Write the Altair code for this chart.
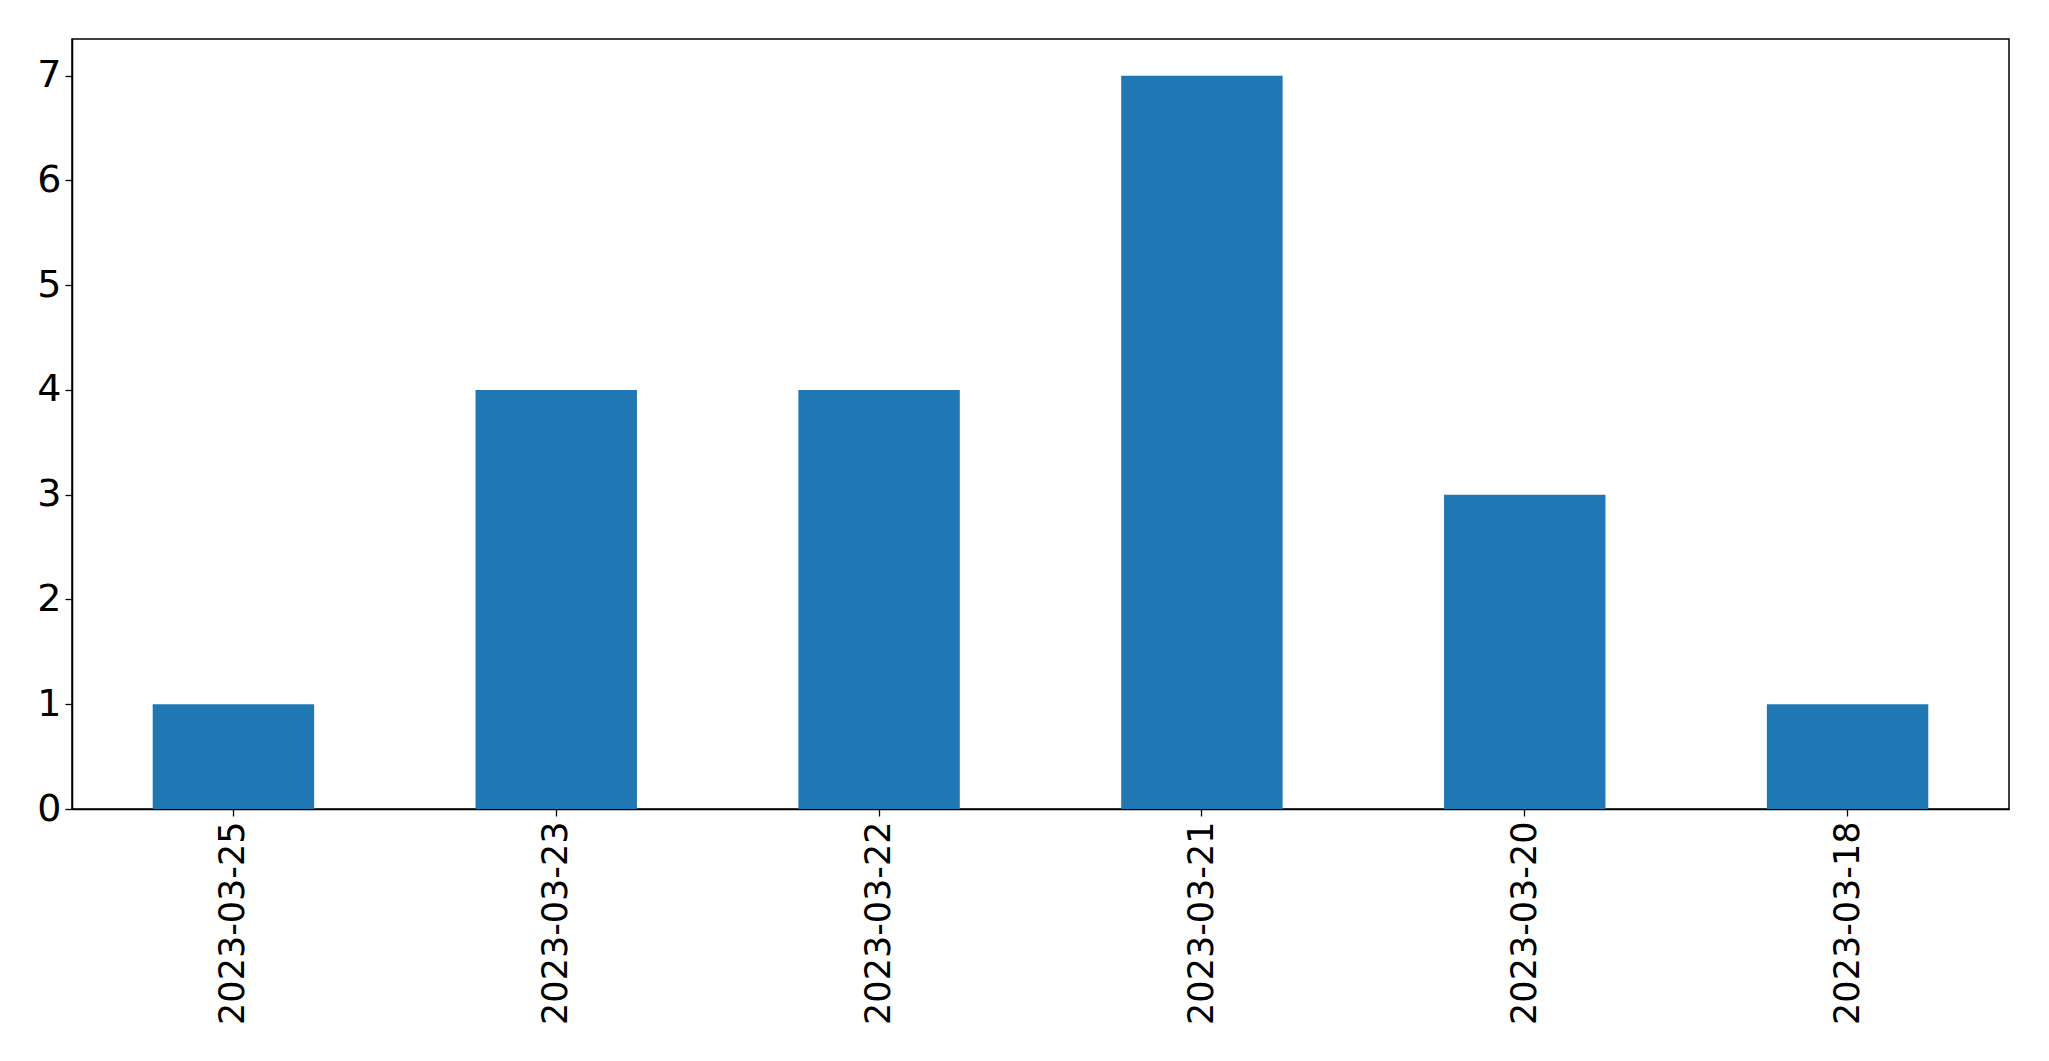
import altair as alt
import pandas as pd

dates = ["2023-03-25", "2023-03-23", "2023-03-22", "2023-03-21", "2023-03-20", "2023-03-18"]
counts = [1, 4, 4, 7, 3, 1]

df = pd.DataFrame({"date": dates, "count": counts})

FONT = "DejaVu Sans"

chart = alt.Chart(df).mark_bar(color="#1f77b4").encode(
    x=alt.X("date:N", sort=dates, title=None,
            scale=alt.Scale(paddingInner=0.5, paddingOuter=0.25),
            axis=alt.Axis(labelAngle=-90, labelAlign="right", labelBaseline="middle",
                          labelFontSize=35, labelFont=FONT, labelColor="black", labelLimit=0,
                          tickColor="black", tickSize=7, tickWidth=1.3, labelPadding=5,
                          domainColor="black", domainWidth=1.5, grid=False)),
    y=alt.Y("count:Q", title=None,
            scale=alt.Scale(domain=[0, 7.35], nice=False),
            axis=alt.Axis(values=[0, 1, 2, 3, 4, 5, 6, 7], format="d",
                          labelFontSize=38, labelFont=FONT, labelColor="black",
                          tickColor="black", tickSize=7, tickWidth=1.3, labelPadding=4,
                          domainColor="black", domainWidth=1.5, grid=False)),
).properties(
    width=1937, height=770,
    autosize=alt.AutoSizeParams(type="none"),
    padding={"left": 64, "top": 31, "right": 30, "bottom": 240},
).configure_view(stroke="black", strokeWidth=1.5)

chart.save("out.html", embed_options={"renderer": "svg", "actions": False})
